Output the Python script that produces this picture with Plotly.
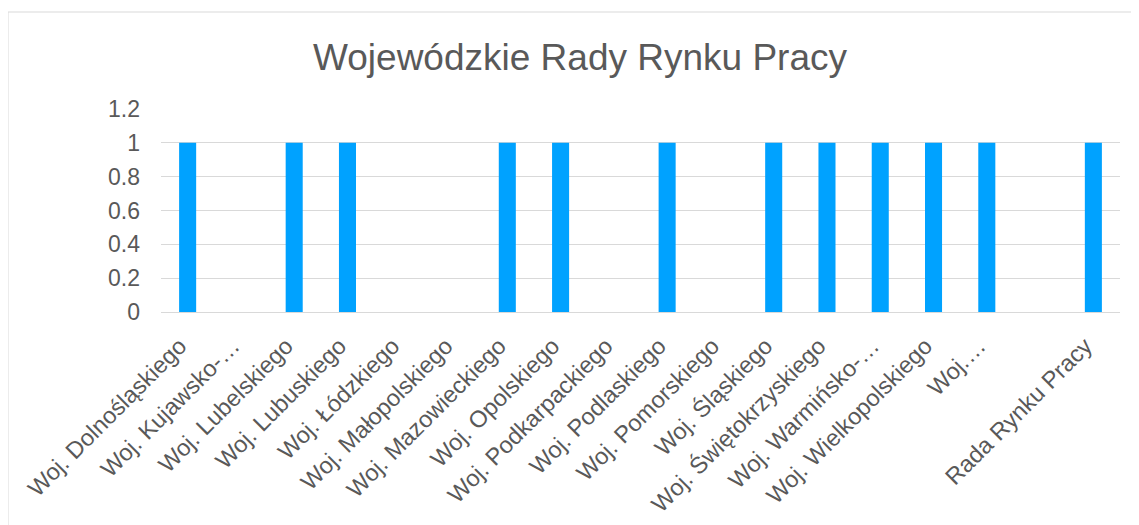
import plotly.graph_objects as go

categories = [
    "Woj. Dolnośląskiego", "Woj. Kujawsko-…", "Woj. Lubelskiego", "Woj. Lubuskiego",
    "Woj. Łódzkiego", "Woj. Małopolskiego", "Woj. Mazowieckiego", "Woj. Opolskiego",
    "Woj. Podkarpackiego", "Woj. Podlaskiego", "Woj. Pomorskiego", "Woj. Śląskiego",
    "Woj. Świętokrzyskiego", "Woj. Warmińsko-…", "Woj. Wielkopolskiego", "Woj.…",
    " ", "Rada Rynku Pracy",
]
values = [1, 0, 1, 1, 0, 0, 1, 1, 0, 1, 0, 1, 1, 1, 1, 1, 0, 1]
y_ticks = [0, 0.2, 0.4, 0.6, 0.8, 1, 1.2]
y_tick_labels = ["0", "0.2", "0.4", "0.6", "0.8", "1", "1.2"]

FONT = "Liberation Sans, Arial, sans-serif"
GREY = "#595959"
OFF = 8  # page body margin

W, H = 1139, 525
px_left, px_right, px_top, px_bottom = 161, 1120, 109, 312
L = px_left - OFF
R = W - (px_right - OFF)
T = px_top - OFF
B = H - (px_bottom - OFF)
pw, ph = W - L - R, H - T - B

def xp(px):
    return (px - OFF - L) / pw

def yp(py):
    return (H - B - (py - OFF)) / ph

fig = go.Figure(go.Bar(x=categories, y=values, marker=dict(color="#00A2FF", line=dict(width=0))))

fig.update_layout(
    width=W, height=H,
    margin=dict(l=L, r=R, t=T, b=B, autoexpand=False),
    paper_bgcolor="white", plot_bgcolor="white",
    bargap=0.68,
    showlegend=False,
    font=dict(family=FONT, color=GREY),
    title=dict(text="Wojewódzkie Rady Rynku Pracy", x=(580 - OFF) / W, xanchor="center",
               y=1 - (57 - OFF) / H, yanchor="middle", yref="container",
               font=dict(size=37, color=GREY, family=FONT)),
    xaxis=dict(tickangle=-45, tickfont=dict(size=23.5, color=GREY), showgrid=False,
               showline=True, linecolor="#D9D9D9", linewidth=1, ticks="", zeroline=False,
               ticklabelstandoff=10, ticklabelshift=-8),
    yaxis=dict(range=[0, 1.2], tickvals=y_ticks, ticktext=y_tick_labels,
               tickfont=dict(size=23, color=GREY), gridcolor="#D9D9D9", gridwidth=1,
               zeroline=False, showline=False, ticks="", ticklabelstandoff=20),
    shapes=[dict(type="rect", xref="paper", yref="paper",
                 x0=xp(8), x1=xp(1150), y0=yp(540), y1=yp(12),
                 line=dict(color="#D9D9D9", width=1), fillcolor="rgba(0,0,0,0)", layer="below")],
)
fig.write_html("out.html")
